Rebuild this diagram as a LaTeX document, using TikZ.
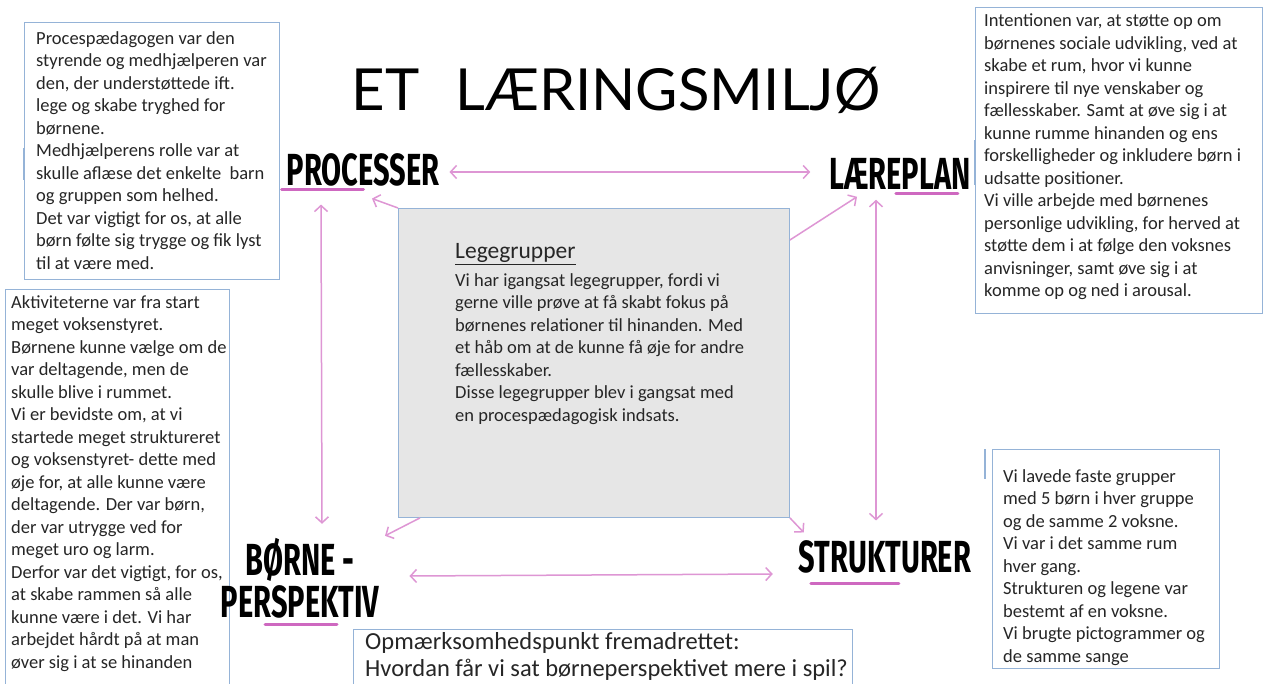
\documentclass[tikz,border=0pt]{standalone}
\usepackage{fontspec}
\usepackage{graphicx}
\setmainfont{Carlito}
\newfontfamily\handfont{Fira Sans}
\newfontfamily\titlefont{Lato}
\usetikzlibrary{arrows.meta,positioning}

\definecolor{boxblue}{RGB}{149,179,215}
\definecolor{boxgray}{RGB}{230,230,230}
\definecolor{txtgray}{RGB}{38,38,38}
\definecolor{arrowpink}{RGB}{222,150,212}
\definecolor{linepink}{RGB}{206,104,192}

\newcommand{\tallhand}[1]{\scalebox{1}[1.55]{#1}}

\begin{document}
\begin{tikzpicture}[x=1pt,y=-1pt,>={Straight Barb[length=6pt,width=13pt]},
      box/.style={draw=boxblue,line width=0.9pt,anchor=north west,inner sep=0pt},
      body/.style={anchor=north west,align=left,inner sep=0pt,text=txtgray,
        font=\fontsize{18.5}{22.5}\selectfont},
      hand/.style={inner sep=0pt,align=center,font=\handfont\bfseries\fontsize{29}{42}\selectfont},
      link/.style={arrowpink,line width=1.5pt},
      under/.style={linepink,line width=3pt,line cap=round},
      tick/.style={boxblue,line width=2pt}]
      \useasboundingbox[fill=white] (0,0) rectangle (1263,684);

      \node[font=\titlefont\fontsize{58}{58}\selectfont] (title) at (616,90)
        {ET\hspace{36pt}LÆRINGSMILJØ};

      % text boxes
      \node[box,minimum width=255pt,minimum height=257pt] (proctext) at (24,22) {};
      \node[body] at (36,31) {Procespædagogen var den\\
        styrende og medhjælperen var\\
        den, der understøttede ift.\\
        lege og skabe tryghed for\\
        børnene.\\
        Medhjælperens rolle var at\\
        skulle aflæse det enkelte\ \ barn\\
        og gruppen som helhed.\\
        Det var vigtigt for os, at alle\\
        børn følte sig trygge og fik lyst\\
        til at være med.};
      \draw[tick] ([yshift=-126pt]proctext.north west) -- ([yshift=-158pt]proctext.north west);

      \node[box,minimum width=287pt,minimum height=306pt] (plantext) at (975,7) {};
      \node[body] at (984,14) {Intentionen var, at støtte op om\\
        børnenes sociale udvikling, ved at\\
        skabe et rum, hvor vi kunne\\
        inspirere til nye venskaber og\\
        fællesskaber. Samt at øve sig i at\\
        kunne rumme hinanden og ens\\
        forskelligheder og inkludere børn i\\
        udsatte positioner.\\
        Vi ville arbejde med børnenes\\
        personlige udvikling, for herved at\\
        støtte dem i at følge den voksnes\\
        anvisninger, samt øve sig i at\\
        komme op og ned i arousal.};
      \draw[tick] ([yshift=-133pt]plantext.north west) -- ([yshift=-178pt]plantext.north west);

      \node[box,minimum width=224pt,minimum height=395pt] (borntext) at (5,289) {};
      \node[body] at (11,295) {Aktiviteterne var fra start\\
        meget voksenstyret.\\
        Børnene kunne vælge om de\\
        var deltagende, men de\\
        skulle blive i rummet.\\
        Vi er bevidste om, at vi\\
        startede meget struktureret\\
        og voksenstyret- dette med\\
        øje for, at alle kunne være\\
        deltagende. Der var børn,\\
        der var utrygge ved for\\
        meget uro og larm.\\
        Derfor var det vigtigt, for os,\\
        at skabe rammen så alle\\
        kunne være i det. Vi har\\
        arbejdet hårdt på at man\\
        øver sig i at se hinanden};

      \node[box,minimum width=227pt,minimum height=219pt] (struktext) at (992,449) {};
      \node[body] at (1003,469) {Vi lavede faste grupper\\
        med 5 børn i hver gruppe\\
        og de samme 2 voksne.\\
        Vi var i det samme rum\\
        hver gang.\\
        Strukturen og legene var\\
        bestemt af en voksne.\\
        Vi brugte pictogrammer og\\
        de samme sange};
      \draw[tick] ([xshift=-7pt]struktext.north west) -- ([xshift=-7pt,yshift=-30pt]struktext.north west);

      \node[box,fill=boxgray,minimum width=391pt,minimum height=309pt] (lege) at (398,208) {};
      \node[body,font=\fontsize{23.5}{26}\selectfont] (legehead) at (455,243) {\underline{Legegrupper}};
      \node[body] at (455,273) {Vi har igangsat legegrupper, fordi vi\\
        gerne ville prøve at få skabt fokus på\\
        børnenes relationer til hinanden. Med\\
        et håb om at de kunne få øje for andre\\
        fællesskaber.\\
        Disse legegrupper blev i gangsat med\\
        en procespædagogisk indsats.};

      \node[box,minimum width=499pt,minimum height=70pt] (focus) at (353,629) {};
      \node[body,font=\fontsize{24.5}{27}\selectfont] at (365,632) {Opmærksomhedspunkt fremadrettet:\\
        Hvordan får vi sat børneperspektivet mere i spil?};

      % handwritten corners
      \node[hand] (proc) at (363,170) {\tallhand{PROCESSER}};
      \node[hand] (plan) at (900,174) {\tallhand{LÆREPLAN}};
      \node[hand] (born) at (300,578) {\tallhand{BØRNE -}\\\tallhand{PERSPEKTIV}};
      \node[hand] (struk) at (885,557) {\tallhand{STRUKTURER}};

      \draw[under] ([xshift=-5pt,yshift=-20pt]proc.west) -- ([xshift=-76pt,yshift=-20pt]proc.east);
      \draw[under] ([xshift=-13pt,yshift=-20pt]plan.east) -- ([xshift=-75pt,yshift=-20pt]plan.east);
      \draw[under] ([xshift=-35pt,yshift=-6pt]born.south) -- ([xshift=37pt,yshift=-6pt]born.south);
      \draw[under] ([xshift=12pt,yshift=-26pt]struk.west) -- ([xshift=100pt,yshift=-26pt]struk.west);

      \path[link]
      ([xshift=10pt,yshift=-2pt]proc.east) edge[<->] ([xshift=-19pt,yshift=2pt]plan.west)
      ([xshift=30pt,yshift=2pt]born.east) edge[<->] ([xshift=-26pt,yshift=-17pt]struk.west)
      ([xshift=-42pt,yshift=-18pt]proc.south) edge[<->] ([xshift=22pt,yshift=14pt]born.north)
      ([xshift=-24pt,yshift=-10pt]plan.south) edge[<->] ([xshift=-9pt,yshift=20pt]struk.north)
      (lege.north west) edge[->] ([xshift=9pt,yshift=-12pt]proc.south)
      ([yshift=-32pt]lege.north east) edge[->] ([xshift=-43pt,yshift=-7pt]plan.south)
      ([xshift=22pt]lege.south west) edge[->] ([xshift=85pt,yshift=2pt]born.north)
      (lege.south east) edge[->] ([xshift=5pt,yshift=8pt]struk.north west)
      ;
      \end{tikzpicture}
\end{document}
